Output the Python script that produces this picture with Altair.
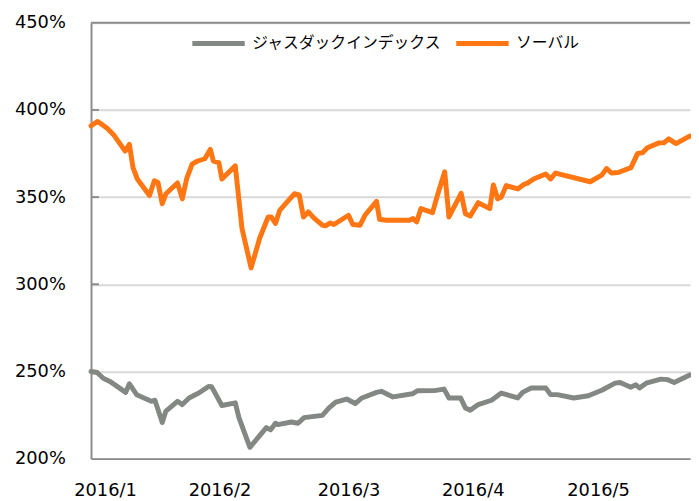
import altair as alt
import pandas as pd

series_names = ["ジャスダックインデックス", "ソーバル"]
series_colors = ["#848884", "#FF7612"]

# x: trading-day position from the first day of 2016, y: index level in %
soval_t = [0, 1.1, 2.6, 3.7, 5.6, 6.3, 6.9, 7.6, 9.6, 10.4, 11.0, 11.7, 12.3, 14.2, 15.0, 15.7,
           16.6, 17.5, 18.7, 19.6, 20.1, 21.0, 21.5, 23.7, 24.8, 26.3, 27.7, 29.1, 29.6, 30.3,
           31.0, 32.3, 33.4, 34.2, 34.9, 35.7, 36.6, 38.0, 38.5, 39.3, 39.9, 42.3, 43.0, 44.2,
           45.0, 46.9, 47.4, 48.5, 52.3, 52.9, 53.5, 54.2, 56.1, 56.9, 58.1, 58.8, 60.8, 61.5,
           62.3, 63.6, 65.5, 66.1, 66.8, 67.4, 68.2, 70.1, 71.2, 71.7, 72.8, 74.7, 75.5, 76.3,
           82.0, 83.9, 84.7, 85.5, 86.6, 88.7, 89.8, 90.6, 91.4, 93.3, 94.1, 94.9, 96.1, 98.1, 98.4]
soval_v = [390.9, 393.4, 389.6, 385.8, 376.4, 380.2, 366.9, 360.4, 350.9, 359.4, 358.4, 346.2,
           351.9, 358.1, 349.0, 360.4, 368.9, 370.7, 372.0, 377.4, 370.7, 369.8, 360.4, 367.9,
           332.0, 309.4, 326.4, 338.6, 338.6, 334.9, 342.4, 347.5, 351.9, 351.3, 338.6, 341.5,
           338.1, 333.9, 333.5, 335.2, 334.3, 339.6, 334.3, 333.9, 339.6, 347.5, 337.3, 336.7,
           336.7, 337.7, 335.8, 343.4, 341.1, 350.9, 364.5, 338.6, 352.2, 340.5, 339.2, 346.8,
           343.4, 357.0, 349.0, 350.0, 356.6, 354.7, 357.5, 358.0, 360.5, 363.2, 360.4, 363.8,
           358.8, 362.6, 366.4, 363.8, 364.1, 366.9, 375.1, 375.4, 378.3, 381.1, 381.1, 383.4,
           380.7, 384.5, 385.0]

jasdaq_t = [0, 1.0, 2.0, 3.1, 5.7, 6.3, 7.5, 9.9, 10.5, 11.7, 12.3, 14.2, 15.0, 16.1, 17.7, 19.3,
            19.8, 21.5, 23.7, 24.3, 26.1, 28.8, 29.5, 30.3, 30.7, 32.9, 34.0, 35.0, 38.0, 39.1,
            40.2, 42.0, 43.4, 44.5, 46.9, 47.7, 49.6, 52.8, 53.6, 56.4, 58.0, 58.8, 60.7, 61.5,
            62.3, 63.6, 65.8, 67.4, 70.1, 70.9, 72.3, 74.7, 75.5, 76.6, 79.3, 81.7, 83.9, 86.1,
            86.9, 88.7, 89.5, 90.1, 91.2, 93.6, 94.7, 95.8, 98.1, 98.4]
jasdaq_v = [250.0, 249.4, 246.1, 244.3, 238.0, 242.9, 236.7, 232.9, 233.5, 220.7, 227.3, 232.9,
            231.0, 234.8, 237.6, 241.4, 241.3, 230.5, 232.0, 223.5, 206.5, 217.8, 216.5, 220.3,
            219.5, 221.0, 220.3, 223.5, 224.8, 229.1, 232.4, 234.2, 231.6, 234.8, 238.0, 238.6,
            235.4, 237.2, 238.9, 239.0, 239.9, 234.8, 234.8, 229.1, 227.8, 231.0, 233.5, 237.6,
            234.8, 238.0, 240.5, 240.5, 236.7, 236.7, 234.8, 236.1, 239.2, 243.3, 243.7, 241.0,
            242.4, 240.5, 243.3, 245.6, 245.3, 243.7, 247.5, 248.0]

month_tick_pos = [2.3, 21.1, 42.3, 62.7, 83.3]
month_labels = ["2016/1", "2016/2", "2016/3", "2016/4", "2016/5"]
y_ticks = [200, 250, 300, 350, 400, 450]
x_domain = [0, 98.4]
y_domain = [200, 450]

rows = []
for t, v in zip(jasdaq_t, jasdaq_v):
    rows.append({"series": series_names[0], "t": t, "v": v})
for t, v in zip(soval_t, soval_v):
    rows.append({"series": series_names[1], "t": t, "v": v})
df = pd.DataFrame(rows)

# label expression mapping tick positions to month labels
expr = "'" + month_labels[-1] + "'"
for i in range(len(month_tick_pos) - 2, -1, -1):
    mid = (month_tick_pos[i] + month_tick_pos[i + 1]) / 2
    expr = f"datum.value < {mid} ? '{month_labels[i]}' : ({expr})"

AXIS_GRAY = "#8C8C8C"

x_enc = alt.X(
    "t:Q",
    scale=alt.Scale(domain=x_domain, nice=False, zero=False),
    axis=alt.Axis(values=month_tick_pos, labelExpr=expr, grid=False, ticks=False, tickSize=0,
                  labelPadding=23, domainColor=AXIS_GRAY, domainWidth=2, title=None,
                  labelFont="DejaVu Sans", labelFontSize=18, labelColor="#000000",
                  labelFlush=False, labelOverlap=False),
)
y_enc = alt.Y(
    "v:Q",
    scale=alt.Scale(domain=y_domain, nice=False, zero=False),
    axis=alt.Axis(values=y_ticks, labelExpr="datum.value + '%'", grid=True,
                  gridColor="#D9D9D9", gridWidth=2, ticks=False, tickSize=0,
                  labelPadding=26, domainColor=AXIS_GRAY, domainWidth=2, title=None,
                  labelFont="DejaVu Sans", labelFontSize=18, labelColor="#000000"),
)

lines = alt.Chart(df).mark_line(strokeWidth=5, strokeJoin="round", strokeCap="round").encode(
    x=x_enc,
    y=y_enc,
    color=alt.Color(
        "series:N",
        scale=alt.Scale(domain=series_names, range=series_colors),
        sort=series_names,
        legend=alt.Legend(orient="none", legendX=100, legendY=-8, direction="horizontal",
                          title=None, symbolType="stroke", symbolSize=2809,
                          symbolStrokeWidth=5, labelFont="Noto Sans CJK JP",
                          labelFontSize=16, labelColor="#000000", labelLimit=400,
                          labelOffset=5, columnPadding=3, padding=0),
    ),
)

top_df = pd.DataFrame({"v": [y_domain[1]]})
top_line = alt.Chart(top_df).mark_rule(color=AXIS_GRAY, strokeWidth=2).encode(y=y_enc)

tick_df = pd.DataFrame({"v": y_ticks[1:-1]})
inner_ticks = alt.Chart(tick_df).mark_rule(color=AXIS_GRAY, strokeWidth=2).encode(
    y=y_enc, x=alt.value(0), x2=alt.value(8)
)

chart = alt.layer(top_line, inner_ticks, lines).properties(
    width=606,
    height=441,
    padding={"left": 84, "top": 12, "right": 1, "bottom": 45},
    autosize=alt.AutoSizeParams(type="none"),
    background="white",
).configure_view(stroke=None)

chart.save("out.html", embed_options={"renderer": "svg", "actions": False})
